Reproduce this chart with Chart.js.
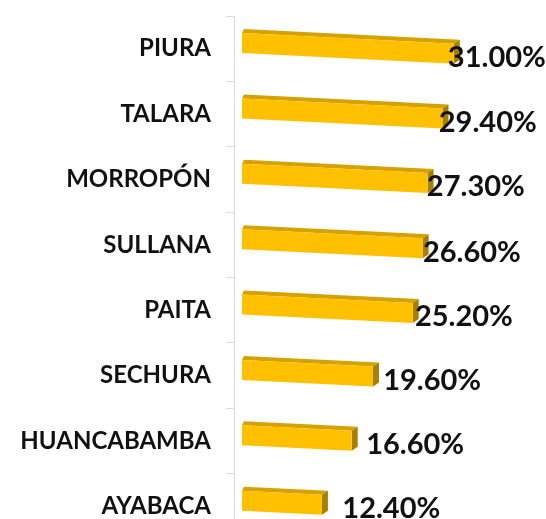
<!DOCTYPE html>
<html>
<head>
<meta charset="utf-8">
<script src="https://cdn.jsdelivr.net/npm/chart.js@4.4.1/dist/chart.umd.min.js"></script>
<style>
  html, body { margin: 0; padding: 0; background: #fff; overflow: hidden; }
  #wrap { width: 546px; height: 519px; overflow: hidden; }
  #box { position: relative; width: 546px; height: 541px; }
</style>
</head>
<body>
<div id="wrap"><div id="box"><canvas id="chart"></canvas></div></div>
<script>
// data
const provinces = ['PIURA', 'TALARA', 'MORROPÓN', 'SULLANA', 'PAITA', 'SECHURA', 'HUANCABAMBA', 'AYABACA'];
const rates = [31.0, 29.4, 27.3, 26.6, 25.2, 19.6, 16.6, 12.4];

const FRONT = '#FFC000';
const TOP = '#D6A200';
const SIDE = '#A88000';

function poly(ctx, pts, color) {
    ctx.beginPath();
    ctx.moveTo(pts[0][0], pts[0][1]);
    for (let k = 1; k < pts.length; k++) ctx.lineTo(pts[k][0], pts[k][1]);
    ctx.closePath();
    ctx.fillStyle = color;
    ctx.fill();
}

// fake 3D bars drawn from each bar element's own geometry
const bars3d = {
    id: 'bars3d',
    afterDatasetsDraw(chart) {
        const ctx = chart.ctx;
        const meta = chart.getDatasetMeta(0);
        ctx.save();
        meta.data.forEach((bar, i) => {
            const base = bar.base;
            const x0 = base + 8;
            const x1 = bar.x;
            const h = bar.height;
            const tilt = x => (x - 355) * 0.05;
            const tl = [x0, bar.y - h / 2 + tilt(x0)];
            const tr = [x1, bar.y - h / 2 + tilt(x1)];
            const br = [x1, bar.y + h / 2 + tilt(x1)];
            const bl = [x0, bar.y + h / 2 + tilt(x0)];
            const dx = 6, dy = -4;
            poly(ctx, [tl, tr, [tr[0] + dx, tr[1] + dy], [tl[0] + 2, tl[1] + dy]], TOP);
            poly(ctx, [tr, br, [br[0] + dx, br[1] + dy], [tr[0] + dx, tr[1] + dy]], SIDE);
            poly(ctx, [tl, tr, br, bl], FRONT);

            // value label
            const lx = base + 0.8 * (x1 - base) + 38;
            const ly = bar.y + tilt(x1) + 4;
            ctx.font = 'bold 29px Lato';
            ctx.fillStyle = '#111';
            ctx.textAlign = 'left';
            ctx.textBaseline = 'middle';
            ctx.fillText(rates[i].toFixed(2) + '%', lx, ly);
        });
        ctx.restore();
    }
};

new Chart(document.getElementById('chart'), {
    type: 'bar',
    data: {
        labels: provinces,
        datasets: [{
            data: rates,
            backgroundColor: 'rgba(0,0,0,0)',
            borderWidth: 0,
            barThickness: 20
        }]
    },
    options: {
        indexAxis: 'y',
        responsive: true,
        maintainAspectRatio: false,
        animation: false,
        layout: { padding: { top: 16, bottom: 2, left: 0, right: 0 } },
        plugins: {
            legend: { display: false },
            tooltip: { enabled: false }
        },
        scales: {
            x: { display: false, min: 0, max: 44 },
            y: {
                afterFit(scale) {
                    scale.width = 234;
                    scale.paddingTop = 0;
                    scale.paddingBottom = 0;
                },
                grid: { drawOnChartArea: false, tickLength: 8, color: '#D9D9D9' },
                border: { color: '#D9D9D9' },
                ticks: {
                    padding: 15,
                    color: '#111',
                    font: { family: 'Lato', size: 24, weight: 'bold' }
                }
            }
        }
    },
    plugins: [bars3d]
});
</script>
</body>
</html>
